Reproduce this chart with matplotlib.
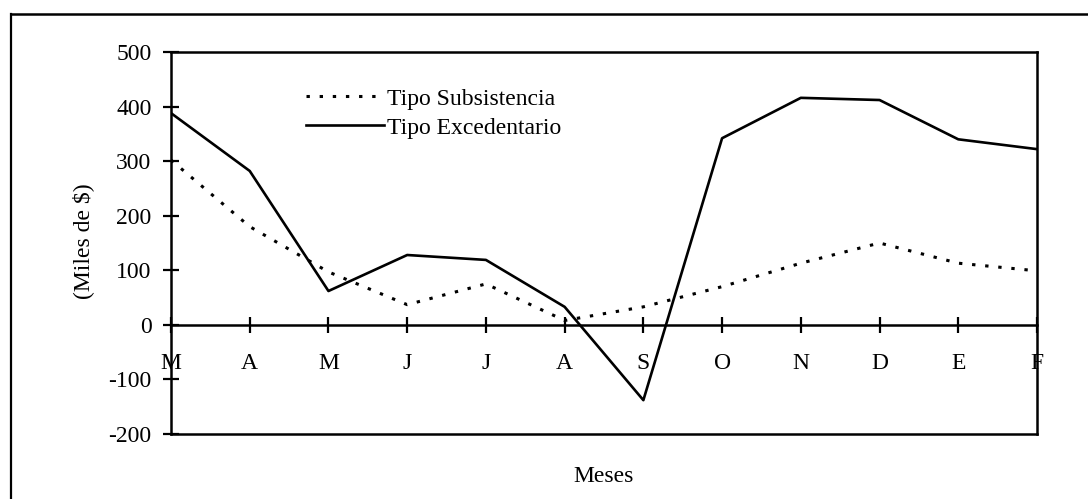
import matplotlib
matplotlib.use("Agg")
import matplotlib.pyplot as plt
from matplotlib.lines import Line2D

months = ["M", "A", "M", "J", "J", "A", "S", "O", "N", "D", "E", "F"]
subsistencia = [302, 180, 97, 37, 75, 8, 33, 70, 113, 150, 113, 99]
excedentario = [388, 282, 62, 128, 119, 33, -138, 342, 416, 412, 340, 322]
yticks = [-200, -100, 0, 100, 200, 300, 400, 500]

plt.rcParams['font.family'] = ['Liberation Serif', 'DejaVu Serif']
plt.rcParams['axes.unicode_minus'] = False

FS = 17
W, H = 1088, 499
fig = plt.figure(figsize=(W / 100, H / 100), dpi=100)
ax = fig.add_axes([171 / W, 1 - 434 / H, (1037 - 171) / W, (434 - 52) / H])

x = list(range(len(months)))
ax.plot(x, subsistencia, color='black', lw=2.2, linestyle=(0, (1.1, 3.2)),
        label='Tipo Subsistencia', dash_capstyle='butt')
ax.plot(x, excedentario, color='black', lw=1.9, label='Tipo Excedentario')

ax.set_xlim(0, len(months) - 1)
ax.set_ylim(-200, 500)

for s in ['left', 'right', 'top']:
    ax.spines[s].set_linewidth(1.8)
ax.spines['bottom'].set_position(('data', 0))
ax.spines['bottom'].set_linewidth(1.8)
ax.plot([0, 1], [0, 0], transform=ax.transAxes, color='black', lw=1.8, clip_on=False)

ax.set_xticks(x)
ax.set_xticklabels(months)
ax.set_yticks(yticks)
ax.tick_params(axis='x', direction='inout', length=12, width=1.6, pad=14, labelsize=FS)
ax.tick_params(axis='y', direction='inout', length=12, width=1.6, pad=8, labelsize=FS)

ax.set_ylabel('(Miles de $)', fontsize=FS)
ax.yaxis.set_label_coords((83 - 171) / (1037 - 171), (434 - 241) / (434 - 52))
ax.yaxis.label.set_va('center')
ax.set_xlabel('Meses', fontsize=FS)
ax.xaxis.set_label_coords(0.5, -(477 - 434) / (434 - 52))
ax.xaxis.label.set_va('center')

leg = ax.legend(loc='upper left', bbox_to_anchor=(306 / W, 1 - 88 / H),
                bbox_transform=fig.transFigure, frameon=False, fontsize=FS,
                handlelength=3.3, handletextpad=0.12, labelspacing=0.32,
                borderpad=0, borderaxespad=0)

# outer frame lines
fig.add_artist(Line2D([11 / W, 11 / W], [0, 1 - 14 / H], transform=fig.transFigure,
                      color='black', lw=1.6))
fig.add_artist(Line2D([11 / W, 1], [1 - 14 / H, 1 - 14 / H], transform=fig.transFigure,
                      color='black', lw=1.8))

fig.savefig('out.png', dpi=100)
